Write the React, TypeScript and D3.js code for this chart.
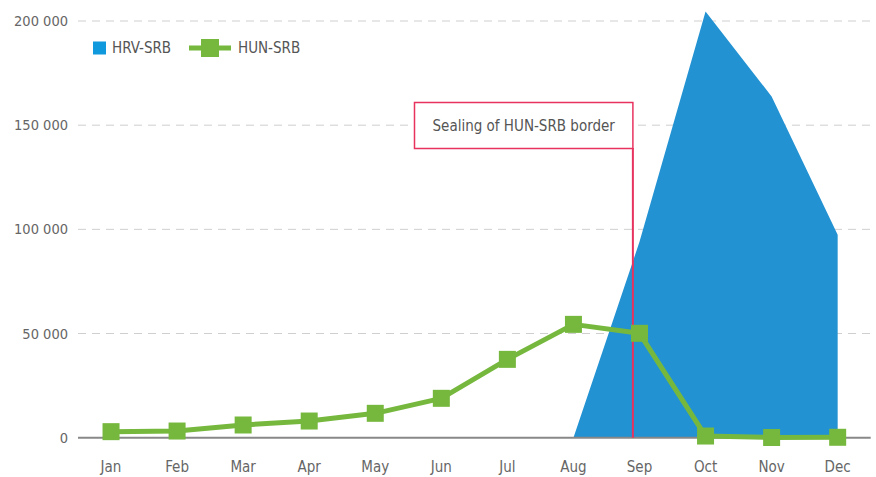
import React, { useRef, useEffect } from 'react';
import * as d3 from 'd3';

const months = ['Jan', 'Feb', 'Mar', 'Apr', 'May', 'Jun', 'Jul', 'Aug', 'Sep', 'Oct', 'Nov', 'Dec'];
// HRV-SRB crossings (no data before August)
const hrvSrb: (number | null)[] = [null, null, null, null, null, null, null, 0, 94000, 204500, 163800, 97400];
// HUN-SRB crossings
const hunSrb = [2900, 3200, 6100, 8000, 11700, 18900, 37600, 54400, 50100, 800, 100, 200];
const yTicks = [0, 50000, 100000, 150000, 200000];
const annotationText = 'Sealing of HUN-SRB border';

const width = 876;
const height = 477;
const FONT = '"DejaVu Sans Condensed", Roboto, sans-serif';

const App = () => {
  const svgRef = useRef<SVGSVGElement>(null);

  useEffect(() => {
    const svg = d3.select(svgRef.current);
    svg.selectAll('*').remove();

    const left = 78, right = 870.7, top = 21, bottom = 437.7;

    const x = d3.scaleBand<string>().domain(months).range([left, right]);
    const cx = (m: string) => (x(m) as number) + x.bandwidth() / 2;
    const y = d3.scaleLinear().domain([0, 200000]).range([bottom, top]);

    const label = (sel: any, size: number, color: string) =>
      sel.style('font-family', FONT)
        .style('font-size', `${size}px`)
        .style('font-weight', 300)
        .style('fill', color);

    // grid
    svg.append('g')
      .selectAll('line')
      .data(yTicks.filter(t => t > 0))
      .enter()
      .append('line')
      .attr('x1', left).attr('x2', right)
      .attr('y1', d => y(d)).attr('y2', d => y(d))
      .attr('stroke', '#cfcfcf')
      .attr('stroke-dasharray', '8,6');

    // y labels
    label(svg.append('g')
      .selectAll('text')
      .data(yTicks)
      .enter()
      .append('text')
      .attr('x', 68)
      .attr('y', d => y(d))
      .attr('dy', '0.35em')
      .attr('text-anchor', 'end'), 14.5, '#666')
      .text((d: number) => d3.format(',')(d).replace(/,/g, ' '));

    // HRV-SRB area
    const area = d3.area<number | null>()
      .defined(d => d !== null)
      .x((d, i) => cx(months[i]))
      .y0(y(0))
      .y1(d => y(d as number));
    svg.append('path')
      .datum(hrvSrb)
      .attr('d', area)
      .attr('fill', '#2292d3');

    // baseline
    svg.append('line')
      .attr('x1', left).attr('x2', right)
      .attr('y1', y(0)).attr('y2', y(0))
      .attr('stroke', '#888')
      .attr('stroke-width', 2);

    // annotation
    const ax = cx('Aug') + x.step() * 0.9;
    svg.append('line')
      .attr('x1', ax).attr('x2', ax)
      .attr('y1', 148).attr('y2', y(0))
      .attr('stroke', '#e8335f')
      .attr('stroke-width', 2);
    svg.append('rect')
      .attr('x', 414.5).attr('y', 102.5)
      .attr('width', ax - 414.5).attr('height', 46)
      .attr('fill', '#fff')
      .attr('stroke', '#e8335f')
      .attr('stroke-width', 1.5);
    label(svg.append('text')
      .attr('x', (414.5 + ax) / 2)
      .attr('y', 126)
      .attr('dy', '0.35em')
      .attr('text-anchor', 'middle'), 15, '#555')
      .text(annotationText);

    // HUN-SRB line
    const line = d3.line<number>()
      .x((d, i) => cx(months[i]))
      .y(d => y(d));
    svg.append('path')
      .datum(hunSrb)
      .attr('d', line)
      .attr('fill', 'none')
      .attr('stroke', '#76b83e')
      .attr('stroke-width', 5)
      .attr('stroke-linejoin', 'round');
    svg.append('g')
      .selectAll('rect')
      .data(hunSrb)
      .enter()
      .append('rect')
      .attr('x', (d, i) => cx(months[i]) - 8.5)
      .attr('y', d => y(d) - 8.5)
      .attr('width', 17).attr('height', 17)
      .attr('fill', '#76b83e');

    // x labels
    label(svg.append('g')
      .selectAll('text')
      .data(months)
      .enter()
      .append('text')
      .attr('x', (d: string) => cx(d))
      .attr('y', 467)
      .attr('dy', '0.35em')
      .attr('text-anchor', 'middle'), 15, '#666')
      .text((d: string) => d);

    // legend
    const lg = svg.append('g');
    lg.append('rect')
      .attr('x', 93).attr('y', 41.5).attr('width', 13).attr('height', 13)
      .attr('fill', '#1199dd');
    label(lg.append('text')
      .attr('x', 112).attr('y', 48).attr('dy', '0.35em'), 15, '#555')
      .text('HRV-SRB');
    lg.append('line')
      .attr('x1', 189).attr('x2', 231).attr('y1', 48).attr('y2', 48)
      .attr('stroke', '#76b83e').attr('stroke-width', 5);
    lg.append('rect')
      .attr('x', 201).attr('y', 39).attr('width', 18).attr('height', 18)
      .attr('fill', '#76b83e');
    label(lg.append('text')
      .attr('x', 238).attr('y', 48).attr('dy', '0.35em'), 15, '#555')
      .text('HUN-SRB');
  }, []);

  return (
    <svg
      ref={svgRef}
      width={width}
      height={height}
      style={{ position: 'absolute', left: 0, top: 0 }}
    />
  );
};

export default App;
